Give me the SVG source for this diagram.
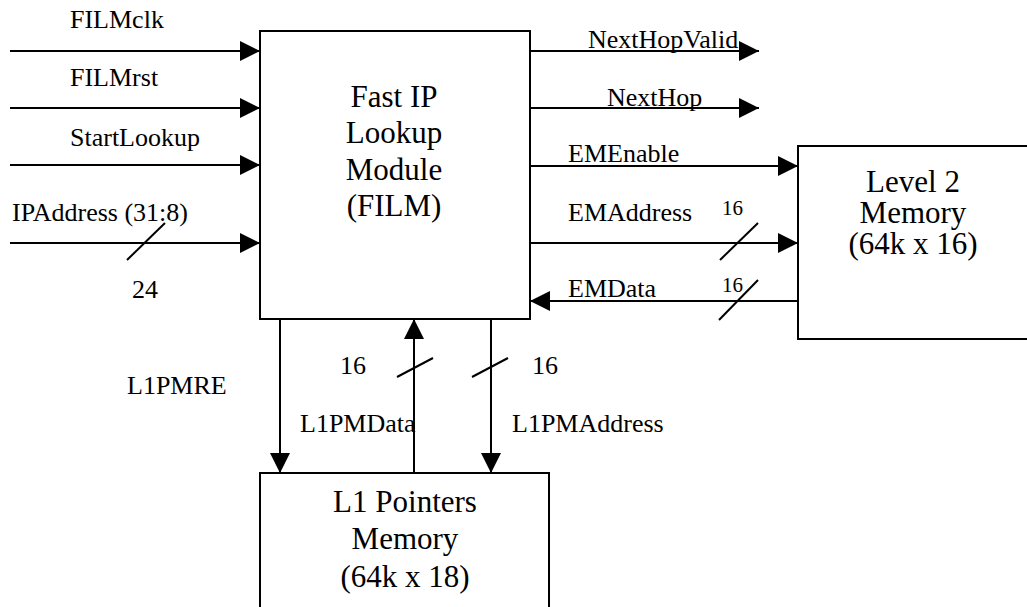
<svg xmlns="http://www.w3.org/2000/svg" width="1027" height="607" viewBox="0 0 1027 607">
  <style>
    .box { fill: #fff; stroke: #000; stroke-width: 2; }
    .wire { fill: none; stroke: #000; stroke-width: 2; }
    .arrow { marker-end: url(#head); }
    .bus { fill: none; stroke: #000; stroke-width: 2; }
    .lbl { font-size: 26px; }
    .small { font-size: 21px; }
    .title { font-size: 31px; text-anchor: middle; }
  </style>
  <defs>
    <marker id="head" markerUnits="userSpaceOnUse" markerWidth="20" markerHeight="20" refX="20" refY="10" orient="auto">
      <path d="M0,0 L20,10 L0,20 z" fill="#000"/>
    </marker>
  </defs>

  <rect width="1027" height="607" fill="#fff"/>

  <g font-family="'Liberation Serif', 'Times New Roman', Times, 'DejaVu Serif', serif" fill="#000">
  <!-- Connectors -->
  <g id="connectors">
    <path class="wire arrow" d="M10,51 H260"/>
    <path class="wire arrow" d="M10,108 H260"/>
    <path class="wire arrow" d="M10,165 H260"/>
    <path class="wire arrow" d="M10,243 H260"/>
    <line class="bus" x1="127" y1="260" x2="165" y2="223"/>

    <path class="wire arrow" d="M530,51 H759"/>
    <path class="wire arrow" d="M530,108 H759"/>
    <path class="wire arrow" d="M530,166 H798"/>
    <path class="wire arrow" d="M530,243 H798"/>
    <line class="bus" x1="720" y1="260" x2="758" y2="223"/>
    <path class="wire arrow" d="M798,301 H530"/>
    <line class="bus" x1="719" y1="320" x2="758" y2="280"/>

    <path class="wire arrow" d="M280,319 V473"/>
    <path class="wire arrow" d="M414,473 V319"/>
    <line class="bus" x1="397" y1="377" x2="433" y2="358"/>
    <path class="wire arrow" d="M491,319 V473"/>
    <line class="bus" x1="472" y1="377" x2="508" y2="358"/>
  </g>

  <!-- Connector labels -->
  <g id="labels">
    <text class="lbl" x="70" y="28">FILMclk</text>
    <text class="lbl" x="70" y="86">FILMrst</text>
    <text class="lbl" x="70" y="146">StartLookup</text>
    <text class="lbl" x="12" y="221">IPAddress (31:8)</text>
    <text class="lbl" x="132" y="298">24</text>

    <text class="lbl" x="588" y="48">NextHopValid</text>
    <text class="lbl" x="607" y="106">NextHop</text>
    <text class="lbl" x="568" y="162">EMEnable</text>
    <text class="lbl" x="568" y="221">EMAddress</text>
    <text class="small" x="722" y="215">16</text>
    <text class="lbl" x="568" y="297">EMData</text>
    <text class="small" x="722" y="292">16</text>

    <text class="lbl" x="127" y="394">L1PMRE</text>
    <text class="lbl" x="340" y="374">16</text>
    <text class="lbl" x="532" y="374">16</text>
    <text class="lbl" x="300" y="432">L1PMData</text>
    <text class="lbl" x="512" y="432">L1PMAddress</text>
  </g>

  <!-- Fast IP Lookup Module -->
  <g id="film">
    <rect class="box" x="260" y="31" width="270" height="288"/>
    <text class="title" x="394" y="107">Fast IP</text>
    <text class="title" x="394" y="143">Lookup</text>
    <text class="title" x="394" y="180">Module</text>
    <text class="title" x="394" y="216">(FILM)</text>
  </g>

  <!-- Level 2 Memory -->
  <g id="level2">
    <rect class="box" x="798" y="146" width="240" height="193"/>
    <text class="title" x="913" y="192">Level 2</text>
    <text class="title" x="913" y="223">Memory</text>
    <text class="title" x="913" y="254">(64k x 16)</text>
  </g>

  <!-- L1 Pointers Memory -->
  <g id="l1mem">
    <rect class="box" x="260" y="473" width="289" height="150"/>
    <text class="title" x="405" y="512">L1 Pointers</text>
    <text class="title" x="405" y="549">Memory</text>
    <text class="title" x="405" y="587">(64k x 18)</text>
  </g>
  </g>
</svg>
